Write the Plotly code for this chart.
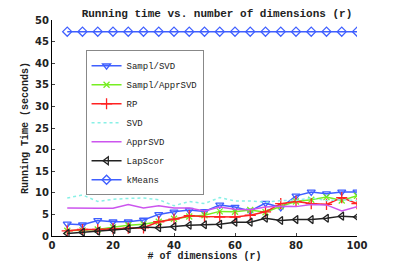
import plotly.graph_objects as go

dims = [5, 10, 15, 20, 25, 30, 35, 40, 45, 50, 55, 60, 65, 70, 75, 80, 85, 90, 95, 100]
sampl_svd = [2.8, 2.6, 3.6, 3.3, 3.3, 3.7, 5.0, 5.6, 6.0, 5.7, 7.2, 6.7, 5.8, 7.6, 6.6, 9.3, 10.2, 9.8, 10.2, 10.2]
sampl_apprsvd = [1.2, 1.3, 1.5, 2.0, 2.5, 2.7, 3.3, 4.0, 4.5, 4.8, 5.7, 5.6, 6.0, 5.5, 6.9, 8.0, 8.4, 9.0, 8.2, 9.3]
rp = [1.2, 1.5, 1.5, 1.7, 1.8, 1.9, 3.3, 3.9, 4.7, 4.5, 4.4, 4.4, 4.8, 5.6, 7.5, 8.0, 7.5, 7.3, 8.9, 7.5]
svd = [8.8, 9.5, 8.0, 8.5, 8.7, 8.8, 8.4, 7.0, 8.0, 7.5, 8.9, 8.1, 8.1, 7.8, 8.2, 8.2, 8.8, 8.2, 8.4, 8.2]
apprsvd = [6.5, 6.4, 6.4, 6.4, 7.3, 6.5, 7.0, 6.5, 6.5, 5.8, 6.7, 6.2, 6.1, 6.7, 6.9, 6.8, 7.3, 7.2, 5.8, 6.8]
lapscor = [0.6, 0.85, 1.1, 1.5, 1.7, 2.1, 1.9, 2.2, 2.5, 2.6, 2.7, 3.2, 3.2, 4.1, 3.6, 3.8, 3.8, 4.1, 4.6, 4.4]
kmeans = [47.3] * 20

x_ticks = [0, 20, 40, 60, 80, 100]
y_ticks = [0, 5, 10, 15, 20, 25, 30, 35, 40, 45, 50]

mono = "Liberation Mono"
fig = go.Figure()

def add(name, y, color, symbol=None, dash="solid", msize=7):
    mode = "lines+markers" if symbol else "lines"
    fig.add_trace(go.Scatter(
        x=dims, y=y, name=name, mode=mode,
        line=dict(color=color, width=1.5, dash=dash),
        marker=dict(symbol=symbol, size=msize, color=color, line=dict(color=color, width=1.3)) if symbol else None,
    ))

add("Sampl/SVD", sampl_svd, "#3f5fff", "triangle-down-open")
add("Sampl/ApprSVD", sampl_apprsvd, "#77ee22", "x-thin-open", msize=6)
add("RP", rp, "#ff2222", "cross-thin-open", msize=8)
add("SVD", svd, "#88f0e6", None, dash="dot")
add("ApprSVD", apprsvd, "#cc55ee")
add("LapScor", lapscor, "#222222", "triangle-left-open")
add("kMeans", kmeans, "#3f5fff", "diamond-open")

# the page body has an 8px margin, so the figure is sized to fit the window
fig.update_layout(
    width=387, height=258,
    margin=dict(l=44, r=38, t=12, b=30, autoexpand=False),
    paper_bgcolor="white", plot_bgcolor="white",
    title=dict(text="<b>Running time vs. number of dimensions (r)</b>", x=0.54, xanchor="center",
               y=0.995, yanchor="top", font=dict(family=mono, size=11, color="#222")),
    legend=dict(x=0.11, y=0.86, xanchor="left", yanchor="top",
                bordercolor="#888", borderwidth=1, bgcolor="white",
                font=dict(family=mono, size=9, color="#222"),
                tracegroupgap=0, itemwidth=30),
    font=dict(family="DejaVu Sans", size=10, color="#222"),
)
fig.update_xaxes(range=[0, 100], tickvals=x_ticks, ticktext=[f"<b>{v}</b>" for v in x_ticks],
                 ticks="inside", ticklen=3, automargin=False,
                 showline=True, linecolor="black", linewidth=1, showgrid=False, zeroline=False,
                 tickfont=dict(family="DejaVu Sans", size=10, color="#222"),
                 title=dict(text="<b># of dimensions (r)</b>", font=dict(family=mono, size=10, color="#222"), standoff=1))
fig.update_yaxes(range=[0, 50], tickvals=y_ticks, ticktext=[f"<b>{v}</b>" for v in y_ticks],
                 ticks="inside", ticklen=3, automargin=False,
                 showline=True, linecolor="black", linewidth=1, showgrid=False, zeroline=False,
                 tickfont=dict(family="DejaVu Sans", size=10, color="#222"),
                 title=dict(text="<b>Running Time (seconds)</b>", font=dict(family=mono, size=10, color="#222"), standoff=4))

fig.write_html("out.html")
